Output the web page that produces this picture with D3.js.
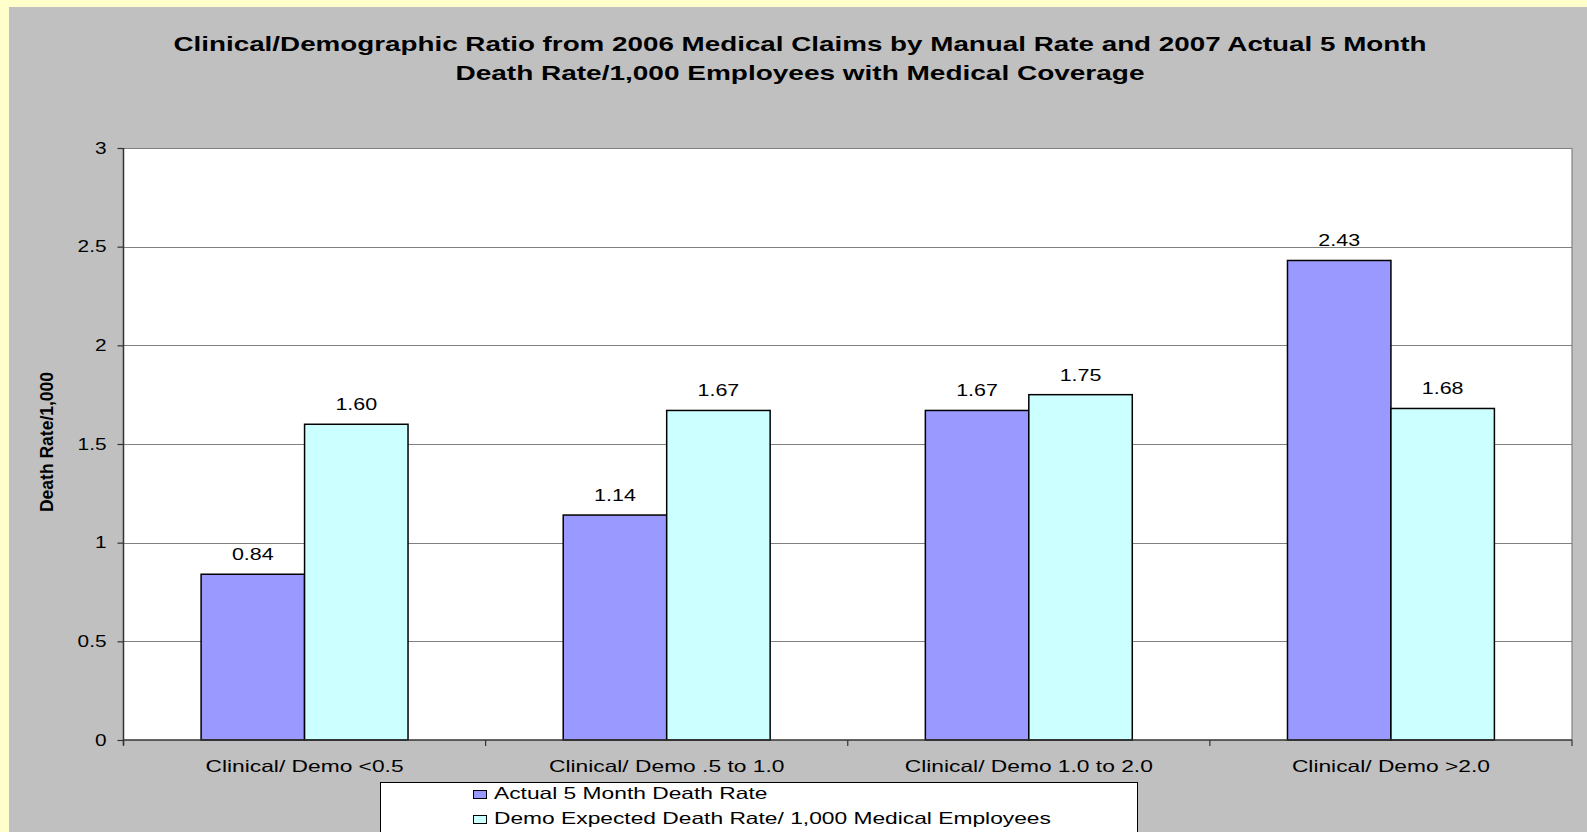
<!DOCTYPE html>
<html>
<head>
<meta charset="utf-8">
<script src="https://cdn.jsdelivr.net/npm/d3@7"></script>
<style>
  body { margin: 0; padding: 0; overflow: hidden; }
  text { font-family: "Liberation Sans", Arial, sans-serif; fill: #000; }
</style>
</head>
<body>
<div id="container"></div>
<script>
// chart data
var categories = ["Clinical/ Demo <0.5", "Clinical/ Demo .5 to 1.0", "Clinical/ Demo 1.0 to 2.0", "Clinical/ Demo >2.0"];
var seriesNames = ["Actual 5 Month Death Rate", "Demo Expected Death Rate/ 1,000 Medical Employees"];
var actualRate = [0.84, 1.14, 1.67, 2.43];
var expectedRate = [1.60, 1.67, 1.75, 1.68];
var yTicks = [0, 0.5, 1, 1.5, 2, 2.5, 3];
var titleLines = ["Clinical/Demographic Ratio from 2006 Medical Claims by Manual Rate and 2007 Actual 5 Month",
                  "Death Rate/1,000 Employees with Medical Coverage"];
var yLabel = "Death Rate/1,000";
var colors = ["#9999FF", "#CCFFFF"];

var W = 1587, H = 832;
// plot area
var margin = {top: 148, right: 15, bottom: 92, left: 123.5};
var stretch = 1.3;     // text in the picture is drawn wide
var stretchWide = 1.38; // category and legend texts a bit more

var svg = d3.select("#container").append("svg")
  .attr("width", W).attr("height", H);

// yellow frame and grey background
svg.append("rect").attr("width", W).attr("height", H).attr("fill", "#FFFFCC");
svg.append("rect").attr("x", 9).attr("y", 7).attr("width", W - 9).attr("height", H - 7).attr("fill", "#C0C0C0");

var x0 = margin.left, x1 = W - margin.right;
var yTop = margin.top, yBot = H - margin.bottom;

var x = d3.scaleBand().domain(categories).range([x0, x1]).padding(0);
var xSub = d3.scaleBand().domain(seriesNames).range([0, x.bandwidth()]).paddingInner(0).paddingOuter(0.75);
var y = d3.scaleLinear().domain([0, 3]).range([yBot, yTop]);

// plot background
svg.append("rect")
  .attr("x", x0).attr("y", yTop)
  .attr("width", x1 - x0).attr("height", yBot - yTop)
  .attr("fill", "#fff");

// gridlines
svg.append("g").selectAll("line")
  .data(yTicks.filter(function(d) { return d > 0; }))
  .enter().append("line")
  .attr("x1", x0).attr("x2", x1)
  .attr("y1", function(d) { return Math.round(y(d)) + 0.5; })
  .attr("y2", function(d) { return Math.round(y(d)) + 0.5; })
  .attr("stroke", "#808080").attr("stroke-width", 1.2);

// right border
svg.append("line")
  .attr("x1", x1).attr("x2", x1).attr("y1", yTop).attr("y2", yBot)
  .attr("stroke", "#808080").attr("stroke-width", 1.2);

// bars
var table = categories.map(function(c, i) {
  return {cat: c, values: [
    {key: seriesNames[0], value: actualRate[i], color: colors[0]},
    {key: seriesNames[1], value: expectedRate[i], color: colors[1]}
  ]};
});

var groups = svg.append("g").selectAll("g")
  .data(table).enter().append("g")
  .attr("transform", function(d) { return "translate(" + x(d.cat) + ",0)"; });

groups.selectAll("rect")
  .data(function(d) { return d.values; })
  .enter().append("rect")
  .attr("x", function(d) { return xSub(d.key); })
  .attr("y", function(d) { return y(d.value); })
  .attr("width", xSub.bandwidth())
  .attr("height", function(d) { return yBot - y(d.value); })
  .attr("fill", function(d) { return d.color; })
  .attr("stroke", "#000").attr("stroke-width", 1.5);

// value labels
groups.selectAll("text")
  .data(function(d) { return d.values; })
  .enter().append("text")
  .attr("class", "wide")
  .attr("x", function(d) { return xSub(d.key) + xSub.bandwidth() / 2; })
  .attr("y", function(d) { return y(d.value) - 14; })
  .attr("text-anchor", "middle")
  .style("font-size", "16.5px")
  .text(function(d) { return d.value.toFixed(2); });

// y axis
var yAxis = svg.append("g")
  .attr("transform", "translate(" + x0 + ",0)")
  .call(d3.axisLeft(y).tickValues(yTicks).tickSize(6).tickSizeOuter(0).tickPadding(11)
    .tickFormat(function(d) { return d; }));
yAxis.select(".domain").remove();
yAxis.selectAll(".tick line").attr("stroke", "#333").attr("stroke-width", 1.2);
yAxis.selectAll(".tick text").attr("class", "wide").style("font-size", "16px")
  .style("font-family", "'Liberation Sans', Arial, sans-serif").attr("fill", "#000");
svg.append("line")
  .attr("x1", x0).attr("x2", x0).attr("y1", yTop).attr("y2", yBot + 5)
  .attr("stroke", "#333").attr("stroke-width", 1.5);

// x axis line and boundary ticks
svg.append("line")
  .attr("x1", x0).attr("x2", x1).attr("y1", yBot).attr("y2", yBot)
  .attr("stroke", "#333").attr("stroke-width", 1.5);
var bounds = categories.map(function(c) { return x(c); }).concat([x1]);
svg.append("g").selectAll("line")
  .data(bounds).enter().append("line")
  .attr("x1", function(d) { return d; }).attr("x2", function(d) { return d; })
  .attr("y1", yBot).attr("y2", yBot + 6)
  .attr("stroke", "#333").attr("stroke-width", 1.2);

// category labels
svg.append("g").selectAll("text")
  .data(categories).enter().append("text")
  .attr("class", "wider")
  .attr("x", function(d) { return x(d) + x.bandwidth() / 2; })
  .attr("y", yBot + 32)
  .attr("text-anchor", "middle")
  .style("font-size", "16.5px")
  .text(function(d) { return d; });

// title
var titleWidths = [1253, 689];
svg.append("g").selectAll("text")
  .data(titleLines).enter().append("text")
  .attr("x", 800)
  .attr("y", function(d, i) { return 51 + i * 28.5; })
  .attr("text-anchor", "middle")
  .attr("textLength", function(d, i) { return titleWidths[i]; })
  .attr("lengthAdjust", "spacingAndGlyphs")
  .style("font-size", "21px").style("font-weight", "bold")
  .text(function(d) { return d; });

// y axis title
svg.append("text")
  .attr("transform", "translate(53," + ((yTop + yBot) / 2 - 2) + ") rotate(-90)")
  .attr("text-anchor", "middle")
  .style("font-size", "17.5px").style("font-weight", "bold")
  .text(yLabel);

// legend
var legend = svg.append("g");
legend.append("rect")
  .attr("x", 380.5).attr("y", 782.5).attr("width", 757).attr("height", 70)
  .attr("fill", "#fff").attr("stroke", "#000").attr("stroke-width", 1);
var items = legend.selectAll("g.item")
  .data(seriesNames).enter().append("g")
  .attr("transform", function(d, i) { return "translate(473," + (790 + i * 25) + ")"; });
items.append("rect")
  .attr("x", 0.5).attr("y", 0.5).attr("width", 13).attr("height", 8)
  .attr("fill", function(d, i) { return colors[i]; })
  .attr("stroke", "#000").attr("stroke-width", 1);
items.append("text")
  .attr("class", "wider")
  .attr("x", 21).attr("y", 8.5)
  .style("font-size", "16.5px")
  .text(function(d) { return d; });

// widen the ordinary texts
function widen(sel, k) {
  sel.each(function() {
    var len = this.getComputedTextLength();
    d3.select(this).attr("textLength", len * k).attr("lengthAdjust", "spacingAndGlyphs");
  });
}
widen(svg.selectAll("text.wide"), stretch);
widen(svg.selectAll("text.wider"), stretchWide);
</script>
</body>
</html>
